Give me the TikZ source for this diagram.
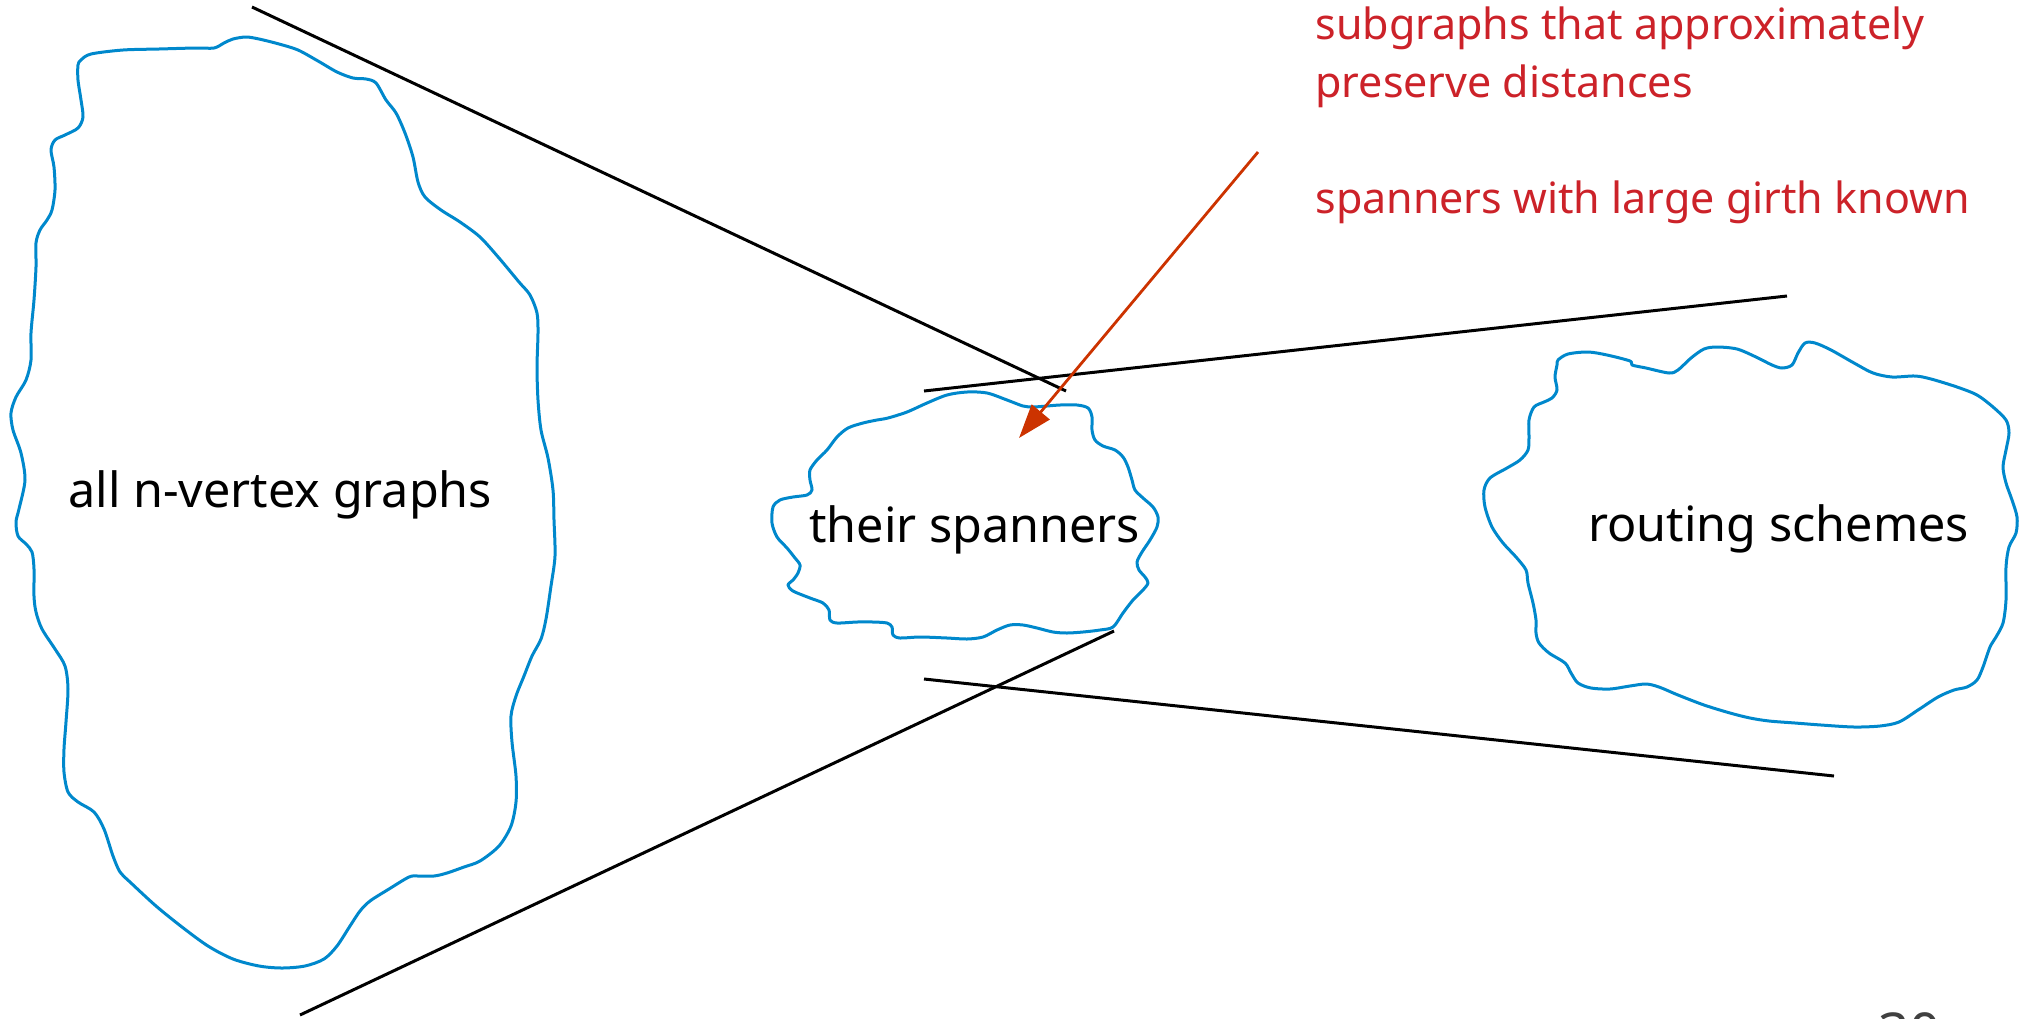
\documentclass[tikz,border=0pt]{standalone}
\usepackage{fontspec}
\setmainfont{Noto Sans}
\usetikzlibrary{arrows.meta}
\definecolor{blobblue}{RGB}{0,136,204}
\definecolor{notered}{RGB}{204,34,41}
\definecolor{arrowred}{RGB}{204,51,0}
\definecolor{pagegray}{RGB}{64,64,64}
\tikzset{
  blob/.style={draw=blobblue, line width=1.5pt, line join=round},
  funnel/.style={draw=black, line width=1.5pt},
  label/.style={inner sep=0pt, anchor=base west, font=\fontsize{24.25pt}{29pt}\selectfont},
  note/.style={inner sep=0pt, anchor=base west, text=notered, font=\fontsize{21.5pt}{26pt}\selectfont},
  pointer/.style={draw=arrowred, line width=1.4pt, -{Triangle[length=17pt,width=11.5pt]}}
}
\begin{document}
\begin{tikzpicture}[x=0.5pt,y=-0.5pt]
\useasboundingbox (0,0) rectangle (2034,1018);
\clip (0,0) rectangle (2034,1018);

% left region: all graphs
\draw[blob] plot[smooth cycle, tension=0.5] coordinates {
 (81,60) (91,54) (123,50) (159,49) (195,48) (214,48) (224,43) (233,39) (246,37)
 (259,39) (279,44) (298,50) (318,61) (337,72) (353,78) (366,79) (376,83)
 (386,100) (396,113) (405,133) (413,157) (418,182) (425,197) (441,210)
 (460,222) (480,237) (499,258) (519,282) (530,295) (537,313) (538,333)
 (537,367) (538,400) (541,430) (548,458) (553,490) (554,520) (555,556) (551,586)
 (546,619) (541,639) (532,656) (524,676) (516,696) (511,716) (512,742)
 (516,776) (516,802) (511,826) (499,846) (480,861) (464,867) (447,873)
 (434,876) (418,876) (409,877) (389,889) (370,901) (360,911) (350,926)
 (337,946) (324,959) (305,966) (282,968) (259,966) (233,959) (208,946)
 (182,927) (156,906) (130,882) (120,872) (113,856) (104,829) (94,812)
 (78,802) (68,792) (64,772) (64,749) (66,722) (68,689) (65,666) (55,649)
 (42,629) (36,612) (34,596) (34,569) (32,552) (26,544) (18,536) (16,522)
 (19,509) (25,480) (21,453) (13,430) (11,413) (16,397) (26,380) (31,360)
 (31,333) (34,300) (36,267) (36,243) (40,230) (47,220) (52,210) (55,190)
 (54,167) (51,150) (55,140) (65,135) (78,128) (83,117) (81,100) (78,80) (78,65)
};

% middle region: spanners
\draw[blob] plot[smooth cycle, tension=0.5] coordinates {
 (888,418) (907,412) (927,403) (947,395) (967,392) (987,393) (1007,400)
 (1023,406) (1033,407) (1047,406) (1060,405) (1077,405) (1088,408)
 (1092,417) (1092,430) (1095,440) (1103,446) (1115,450) (1123,457)
 (1128,467) (1132,480) (1135,490) (1143,498) (1153,507) (1158,517)
 (1157,527) (1150,540) (1142,552) (1137,562) (1139,570) (1145,577)
 (1148,583) (1143,590) (1133,600) (1123,613) (1113,627) (1100,630)
 (1083,632) (1067,633) (1053,632) (1037,628) (1023,625) (1010,625)
 (997,630) (983,637) (967,639) (947,638) (920,637) (900,638) (893,635)
 (892,627) (887,623) (873,622) (857,622) (837,623) (830,620) (829,610)
 (823,603) (810,598) (793,591) (788,585) (793,580) (798,573) (800,565)
 (795,558) (787,548) (777,537) (772,523) (773,507) (780,500) (793,497)
 (807,495) (812,490) (810,480) (810,470) (817,460) (827,450) (837,437)
 (848,428) (863,423) (877,420)
};

% right region: routing schemes
\draw[blob] plot[smooth cycle, tension=0.5] coordinates {
 (1558,360) (1568,354) (1588,352) (1607,355) (1630,361) (1632,365)
 (1646,368) (1669,373) (1678,370) (1691,358) (1704,349) (1717,347)
 (1737,349) (1756,357) (1772,365) (1782,368) (1792,365) (1798,353)
 (1805,343) (1815,343) (1831,350) (1854,363) (1873,373) (1892,377)
 (1915,376) (1931,379) (1957,387) (1977,395) (1993,407) (2006,420)
 (2009,433) (2006,450) (2003,467) (2006,483) (2012,500) (2017,517)
 (2016,533) (2009,547) (2006,567) (2006,600) (2003,623) (1996,637)
 (1990,647) (1983,667) (1977,680) (1967,687) (1954,690) (1938,697)
 (1918,710) (1899,722) (1880,726) (1854,727) (1821,725) (1795,723)
 (1769,721) (1750,718) (1730,713) (1704,705) (1678,695) (1659,687)
 (1646,684) (1630,686) (1610,689) (1591,688) (1578,683) (1571,673)
 (1565,663) (1549,653) (1539,643) (1536,633) (1536,620) (1533,603)
 (1528,583) (1526,570) (1516,557) (1503,543) (1492,527) (1485,507)
 (1484,490) (1490,478) (1507,468) (1520,460) (1528,450) (1529,437)
 (1529,420) (1534,407) (1544,402) (1552,398) (1557,390) (1555,377) (1557,365)
};

% region labels
\node[label] (allgraphs) at (68,507) {all n-vertex graphs};
\node[label] (spanners) at (809,542) {their spanners};
\node[label] (routing) at (1588,541) {routing schemes};

% funnel lines
\coordinate (f1a) at (252,7);    \coordinate (f1b) at (1066,391);
\coordinate (f2a) at (300,1015); \coordinate (f2b) at (1114,631);
\coordinate (f3a) at (924,391);  \coordinate (f3b) at (1787,296);
\coordinate (f4a) at (924,679);  \coordinate (f4b) at (1834,776);
\draw[funnel] (f1a) -- (f1b);
\draw[funnel] (f2a) -- (f2b);
\draw[funnel] (f3a) -- (f3b);
\draw[funnel] (f4a) -- (f4b);

% annotation
\node[note] (def1) at (1315,39) {subgraphs that approximately};
\node[note] (def2) at (1315,97) {preserve distances};
\node[note] (girth) at (1315,213) {spanners with large girth known};
\coordinate (ptrstart) at (1258,152);
\coordinate (ptrtip) at (1019,438);
\draw[pointer] (ptrstart) -- (ptrtip);

% slide number
\node[inner sep=0pt, anchor=base west, text=pagegray,
      font=\fontsize{27.5pt}{33pt}\selectfont] (pagenum) at (1878,1052) {30};
\end{tikzpicture}
\end{document}
